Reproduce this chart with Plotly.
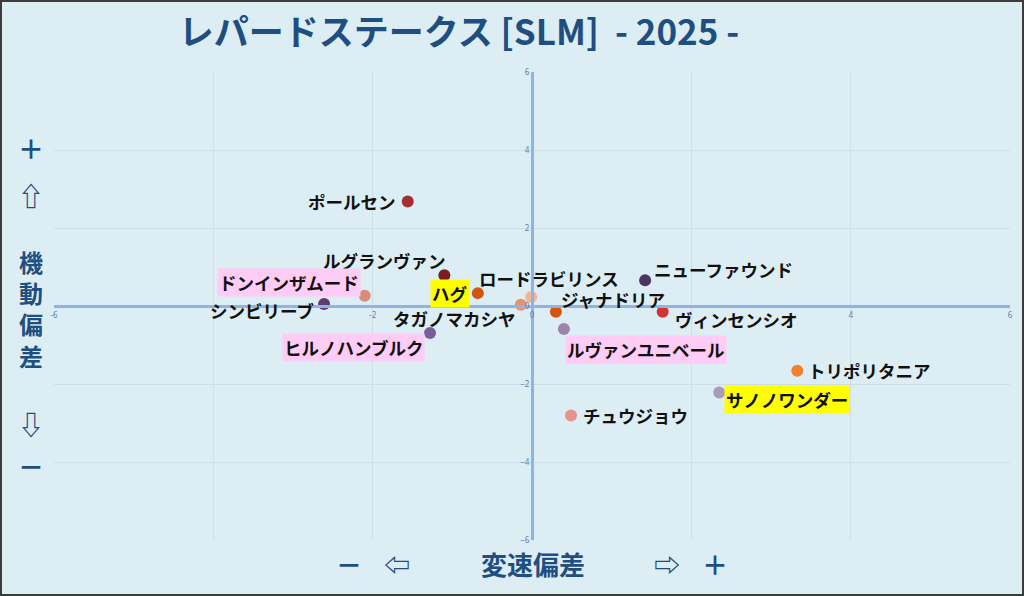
import plotly.graph_objects as go

# horses, speed-change deviation (x) and mobility deviation (y)
names = [
    "ポールセン", "ルグランヴァン", "ドンインザムード", "シンビリーブ", "ハグ",
    "ヒルノハンブルク", "タガノマカシヤ", "ロードラビリンス", "ジャナドリア",
    "ルヴァンユニベール", "ニューファウンド", "ヴィンセンシオ", "トリポリタニア",
    "サノノワンダー", "チュウジョウ",
]
speed_dev = [-1.56, -1.10, -2.10, -2.61, -0.68, -1.28, -0.14, -0.01, 0.30,
             0.40, 1.42, 1.64, 3.33, 2.35, 0.49]
mobility_dev = [2.68, 0.79, 0.26, 0.05, 0.33, -0.69, 0.03, 0.23, -0.15,
                -0.59, 0.66, -0.15, -1.66, -2.22, -2.81]
tick_vals = [-6, -4, -2, 0, 2, 4, 6]
# -4 and 2 sit under horse names in the original, so they stay hidden
x_tick_text = ["-6", "", "-2", "0", "", "4", "6"]

colors = ["#a33030", "#7a1e1e", "#d98a7a", "#5c3d6e", "#d2560f",
          "#7a5c9c", "#e39372", "#f0b496", "#d2560f", "#9c84aa",
          "#4b3660", "#d23434", "#f0812e", "#a99ab9", "#e8918e"]
# label highlight: "" none, "p" pink, "y" yellow
highlight = ["", "", "p", "", "y", "p", "", "", "", "p", "", "", "", "y", ""]
# label placement (anchor, xshift, yshift) in pixels
label_pos = [
    ("right", -10, 0), ("right", 4, 15), ("right", -4, 13), ("right", -8, -6),
    ("right", -8, 0), ("right", -5, -15), ("right", -3, -14), ("center", 18, 19),
    ("left", 3, 12), ("left", 1, -20), ("left", 7, 11), ("left", 10, -8),
    ("left", 9, 0), ("left", 5, -7), ("left", 10, 0),
]

BG = "#dcedf3"
NAVY = "#1f4e80"
W, H = 1024, 596
ML, MR, MT, MB = 54, 14, 72, 56
PW, PH = W - ML - MR, H - MT - MB

fig = go.Figure()

fig.add_trace(
    go.Scatter(
        x=speed_dev,
        y=mobility_dev,
        mode="markers",
        marker=dict(size=12, color=colors, line=dict(width=0)),
        hoverinfo="text",
        text=names,
        showlegend=False,
    )
)

annotations = []
for n, x, y, hl, (anc, dx, dy) in zip(names, speed_dev, mobility_dev, highlight, label_pos):
    bg = {"p": "#ffccf6", "y": "#ffff00"}.get(hl, "rgba(0,0,0,0)")
    annotations.append(
        dict(
            x=x, y=y, xref="x", yref="y", text=n, showarrow=False,
            xanchor=anc, yanchor="middle", xshift=dx, yshift=dy,
            font=dict(family="Noto Sans CJK JP", size=17.5, color="#111111", weight="bold"),
            bgcolor=bg, borderpad=1,
        )
    )


def px_to_paper(px, py):
    return (px - ML) / PW, 1 - (py - MT) / PH


# side texts in pixel positions (text, x, y, font size)
side_texts = [
    ("＋", 31, 147, 26), ("⇧", 31, 195, 26),
    ("機<br>動<br>偏<br>差", 31, 308, 24),
    ("⇩", 31, 423, 26), ("－", 31, 465, 26),
    ("－", 349, 563, 26), ("⇦", 397, 563, 26), ("変速偏差", 533, 563, 26),
    ("⇨", 667, 563, 26), ("＋", 715, 563, 26),
]
for t, px, py, fs in side_texts:
    xp, yp = px_to_paper(px, py)
    annotations.append(
        dict(
            x=xp, y=yp, xref="paper", yref="paper", text=t, showarrow=False,
            xanchor="center", yanchor="middle",
            font=dict(family="Noto Sans CJK JP", size=fs, color=NAVY, weight="bold"),
        )
    )

fig.update_layout(
    width=W,
    height=H,
    margin=dict(l=ML, r=MR, t=MT, b=MB, pad=0),
    paper_bgcolor=BG,
    plot_bgcolor=BG,
    title=dict(
        text="レパードステークス [SLM]  - 2025 -",
        x=459 / W, xref="container", xanchor="center",
        y=1 - 33 / H, yref="container", yanchor="middle",
        font=dict(family="Noto Sans CJK JP", size=35, color=NAVY, weight="bold"),
    ),
    annotations=annotations,
    shapes=[
        dict(
            type="rect", xref="paper", yref="paper",
            x0=(1 - ML) / PW, x1=(W - 1 - ML) / PW,
            y0=1 - (H - 1 - MT) / PH, y1=1 - (1 - MT) / PH,
            line=dict(color="#3c3c3c", width=2), layer="above",
        )
    ],
)

axis_common = dict(
    range=[-6, 6],
    tickvals=tick_vals,
    showgrid=True,
    gridcolor="#cde0ea",
    gridwidth=1,
    zeroline=False,
    showline=True,
    linecolor="#8fb4e3",
    linewidth=3,
    anchor="free",
    position=0.5,
    ticks="",
    tickfont=dict(family="Noto Sans", size=8, color="#5d7fb0"),
)
fig.update_xaxes(ticktext=x_tick_text, **axis_common)
fig.update_yaxes(**axis_common)

fig.write_html(
    "out.html",
    config={"displayModeBar": False},
    post_script="document.body.style.margin='0';document.body.style.overflow='hidden';",
)
